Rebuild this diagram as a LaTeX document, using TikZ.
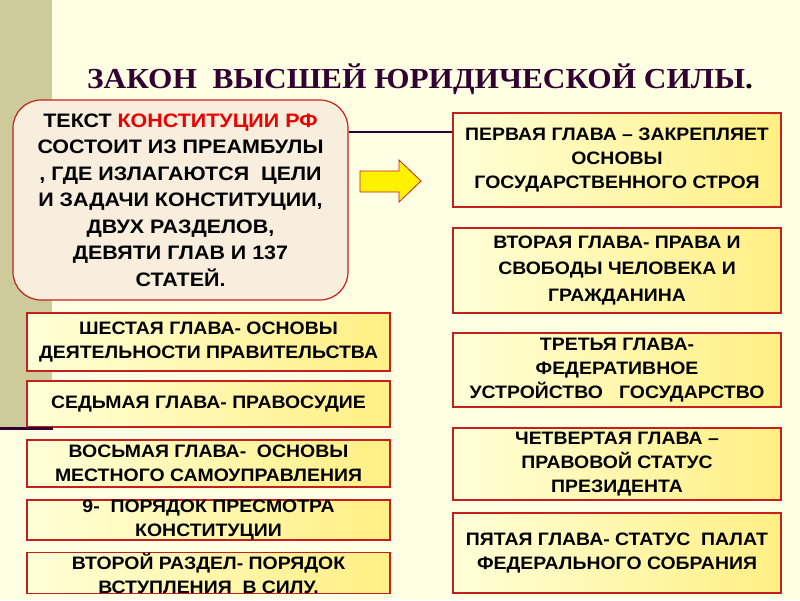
\documentclass[tikz,border=0pt]{standalone}
\usepackage{fontspec}
\newfontfamily\boxf[FakeStretch=1.08]{Liberation Sans}
\newfontfamily\rbf[FakeStretch=1.1]{Liberation Sans}
\newfontfamily\titlef[FakeStretch=1.08]{Liberation Serif}
\definecolor{bg}{HTML}{FFFFE3}
\definecolor{stripe}{HTML}{CCCB99}
\definecolor{boxred}{HTML}{C81E1E}
\definecolor{gl}{HTML}{FFFFD8}
\definecolor{gm}{HTML}{FFFBBE}
\definecolor{gr}{HTML}{FFEF84}
\definecolor{rbfill}{HTML}{F7EEDD}
\definecolor{titlec}{HTML}{330033}
\definecolor{dline}{HTML}{330033}
\definecolor{redtxt}{HTML}{EE0000}
\tikzset{
  box/.style={draw=boxred, line width=1.2pt, left color=gl, middle color=gm, right color=gr,
    inner sep=0pt, align=center, text=black,
    font=\boxf\bfseries\fontsize{18}{24}\selectfont},
  rbox/.style={draw=boxred, line width=1.2pt, fill=rbfill, rounded corners=28pt,
    inner sep=0pt, align=center, text=black,
    font=\rbf\bfseries\fontsize{19.5}{26.5}\selectfont},
  dl/.style={draw=dline, line width=2pt},
  arrowshape/.style={fill=yellow, draw=boxred, line width=0.8pt, line join=miter}
}
\begin{document}
\begin{tikzpicture}[x=1pt,y=-1pt]
\useasboundingbox (0,0) rectangle (800,600);
\fill[bg] (0,0) rectangle (800,600);
\fill[stripe] (0,0) rectangle (52,427);

\node[anchor=base, text=titlec, font=\titlef\bfseries\fontsize{29}{31}\selectfont] (title) at (420,88) {ЗАКОН \ ВЫСШЕЙ ЮРИДИЧЕСКОЙ СИЛЫ\textcolor{black}{.}};

\node[rbox, minimum width=335pt, minimum height=200pt] (rb) at (180.5,200)
  {ТЕКСТ \textcolor{redtxt}{КОНСТИТУЦИИ РФ}\\ СОСТОИТ ИЗ ПРЕАМБУЛЫ\\ , ГДЕ ИЗЛАГАЮТСЯ \ ЦЕЛИ\\ И ЗАДАЧИ КОНСТИТУЦИИ,\\ ДВУХ РАЗДЕЛОВ,\\ ДЕВЯТИ ГЛАВ И 137\\ СТАТЕЙ.};

\draw[arrowshape] (360,171) -- (399,171) -- (399,160) -- (421,181) -- (399,202) -- (399,192) -- (360,192) -- cycle;

\node[box, minimum width=328pt, minimum height=94pt] (b1) at (617,160)
  {ПЕРВАЯ ГЛАВА – ЗАКРЕПЛЯЕТ\\ ОСНОВЫ\\ ГОСУДАРСТВЕННОГО СТРОЯ};
\node[box, minimum width=328pt, minimum height=85pt, font=\boxf\bfseries\fontsize{18}{26.5}\selectfont] (b2) at (617,270.5)
  {ВТОРАЯ ГЛАВА- ПРАВА И\\ СВОБОДЫ ЧЕЛОВЕКА И\\ ГРАЖДАНИНА};
\node[box, minimum width=328pt, minimum height=74pt] (b3) at (617,370)
  {ТРЕТЬЯ ГЛАВА-\\ ФЕДЕРАТИВНОЕ\\ УСТРОЙСТВО \ \ ГОСУДАРСТВО};
\node[box, minimum width=328pt, minimum height=72pt] (b4) at (617,464)
  {ЧЕТВЕРТАЯ ГЛАВА –\\ ПРАВОВОЙ СТАТУС\\ ПРЕЗИДЕНТА};
\node[box, minimum width=328pt, minimum height=80pt] (b5) at (617,553)
  {ПЯТАЯ ГЛАВА- СТАТУС \ ПАЛАТ\\ ФЕДЕРАЛЬНОГО СОБРАНИЯ};

\node[box, minimum width=363pt, minimum height=58pt] (b6) at (208.5,342)
  {ШЕСТАЯ ГЛАВА- ОСНОВЫ\\ ДЕЯТЕЛЬНОСТИ ПРАВИТЕЛЬСТВА};
\node[box, minimum width=363pt, minimum height=46pt] (b7) at (208.5,404)
  {СЕДЬМАЯ ГЛАВА- ПРАВОСУДИЕ};
\node[box, minimum width=363pt, minimum height=47pt] (b8) at (208.5,463.5)
  {ВОСЬМАЯ ГЛАВА- \ ОСНОВЫ\\ МЕСТНОГО САМОУПРАВЛЕНИЯ};
\node[box, minimum width=363pt, minimum height=40pt] (b9) at (208.5,520)
  {9- \ ПОРЯДОК ПРЕСМОТРА\\ КОНСТИТУЦИИ};
\node[box, minimum width=363pt, minimum height=40pt] (b10) at (208.5,573)
  {ВТОРОЙ РАЗДЕЛ- ПОРЯДОК\\ ВСТУПЛЕНИЯ \ В СИЛУ.};

\coordinate (y132) at (0,132);
\draw[dl] (rb.east |- y132) -- (b1.west |- y132);
\coordinate (s1) at (0,428);
\coordinate (s2) at (53,428);
\draw[dl, line width=3pt] (s1) -- (s2);
\end{tikzpicture}
\end{document}
